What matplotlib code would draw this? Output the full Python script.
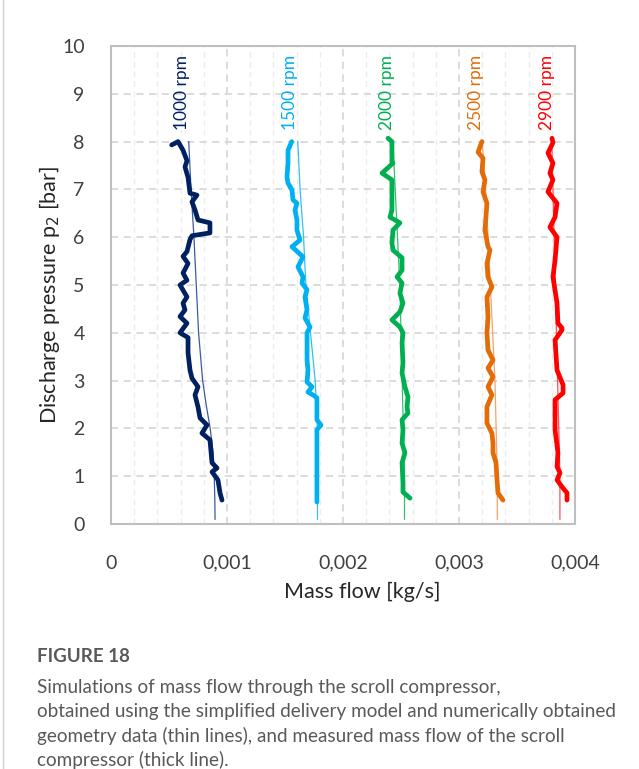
import matplotlib
matplotlib.use("Agg")
import matplotlib.pyplot as plt
from matplotlib.ticker import MultipleLocator
from matplotlib.lines import Line2D

plt.rcParams['font.family'] = ['Lato', 'DejaVu Sans']

# ---------------- data ----------------
speeds = ["1000 rpm", "1500 rpm", "2000 rpm", "2500 rpm", "2900 rpm"]
colors = ["#002060", "#00B0F0", "#00B050", "#E36C09", "#FF0000"]
thin_colors = ["#3A5BA0", "#33C0F2", "#33C070", "#F5A36A", "#FF5050"]
label_x = [0.000612, 0.00154, 0.00238, 0.00315, 0.00376]

# measured (thick lines): pressure [bar], mass flow [kg/s]
p_1000 = [7.93, 8.0, 7.82, 7.6, 7.47, 7.25, 6.92, 6.88, 6.74, 6.57, 6.36, 6.3, 6.09, 6.03, 5.95,
          5.7, 5.6, 5.45, 5.25, 5.1, 5.0, 4.75, 4.62, 4.48, 4.34, 4.2, 4.0, 3.9, 3.58, 3.22,
          3.05, 2.87, 2.7, 2.45, 2.22, 2.07, 1.9, 1.76, 1.28, 1.17, 1.09, 0.92, 0.65, 0.5]
m_1000 = [0.000523, 0.000578, 0.000621, 0.000655, 0.000638, 0.000664, 0.000681, 0.000741, 0.000698,
          0.000724, 0.000750, 0.000853, 0.000853, 0.000698, 0.000681, 0.000655, 0.000621, 0.000664,
          0.000621, 0.000655, 0.000595, 0.000655, 0.000621, 0.000638, 0.000595, 0.000655, 0.000595,
          0.000664, 0.000664, 0.000681, 0.000698, 0.000750, 0.000724, 0.000750, 0.000767, 0.000828,
          0.000784, 0.000853, 0.000871, 0.000914, 0.000871, 0.000922, 0.000940, 0.000957]

p_1500 = [8.0, 7.82, 7.55, 7.26, 7.13, 6.99, 6.78, 6.71, 6.57, 6.36, 6.15, 5.94, 5.8, 5.59, 5.38,
          5.17, 5.04, 4.9, 4.75, 4.48, 4.31, 4.12, 4.0, 3.43, 3.22, 2.97, 2.87, 2.76, 2.7, 2.64,
          2.18, 2.07, 1.97, 0.46]
m_1500 = [0.001558, 0.001526, 0.001526, 0.001517, 0.001526, 0.001560, 0.001569, 0.001603, 0.001586,
          0.001603, 0.001603, 0.001629, 0.001560, 0.001655, 0.001612, 0.001655, 0.001647, 0.001690,
          0.001672, 0.001690, 0.001672, 0.001716, 0.001690, 0.001690, 0.001698, 0.001690, 0.001733,
          0.001698, 0.001741, 0.001775, 0.001775, 0.001810, 0.001775, 0.001775]

p_2000 = [8.07, 8.0, 7.58, 7.55, 7.34, 7.2, 6.57, 6.42, 6.3, 6.15, 5.88, 5.73, 5.57, 5.31, 5.17,
          5.04, 4.83, 4.62, 4.44, 4.27, 4.12, 4.0, 3.79, 3.37, 3.16, 2.87, 2.66, 2.45, 2.32, 2.18,
          1.97, 1.69, 1.49, 1.28, 0.86, 0.67, 0.54]
m_2000 = [0.002388, 0.002422, 0.002422, 0.002431, 0.002336, 0.002422, 0.002422, 0.002405, 0.002491,
          0.002431, 0.002422, 0.002431, 0.002509, 0.002509, 0.002466, 0.002509, 0.002491, 0.002517,
          0.002491, 0.002422, 0.002491, 0.002517, 0.002509, 0.002517, 0.002509, 0.002534, 0.002560,
          0.002552, 0.002560, 0.002509, 0.002517, 0.002509, 0.002534, 0.002509, 0.002517, 0.002517,
          0.002578]

p_2500 = [8.0, 7.78, 7.65, 7.37, 7.2, 6.95, 6.71, 6.15, 5.8, 5.73, 5.45, 5.17, 4.96, 4.75, 4.33,
          4.0, 3.64, 3.43, 3.26, 3.08, 2.87, 2.7, 2.45, 2.11, 1.9, 1.69, 1.49, 1.28, 0.92, 0.65, 0.5]
m_2500 = [0.003198, 0.003164, 0.003207, 0.003198, 0.003224, 0.003207, 0.003241, 0.003224, 0.003250,
          0.003267, 0.003241, 0.003250, 0.003284, 0.003241, 0.003250, 0.003241, 0.003250, 0.003293,
          0.003250, 0.003293, 0.003250, 0.003284, 0.003241, 0.003241, 0.003284, 0.003293, 0.003293,
          0.003319, 0.003328, 0.003336, 0.003379]

p_2900 = [8.07, 7.98, 7.76, 7.55, 7.34, 7.2, 6.95, 6.71, 6.42, 6.21, 6.0, 5.52, 5.17, 4.62, 4.2,
          4.1, 4.06, 3.85, 3.22, 2.91, 2.74, 2.6, 1.97, 1.49, 1.2, 1.07, 0.92, 0.75, 0.65, 0.5]
m_2900 = [0.003802, 0.003810, 0.003767, 0.003810, 0.003784, 0.003810, 0.003767, 0.003845, 0.003828,
          0.003784, 0.003845, 0.003828, 0.003810, 0.003845, 0.003853, 0.003888, 0.003888, 0.003828,
          0.003845, 0.003897, 0.003897, 0.003828, 0.003828, 0.003853, 0.003845, 0.003871, 0.003845,
          0.003897, 0.003931, 0.003931]

# simulated (thin lines)
p_sim_1000 = [0.1, 0.5, 1.0, 1.5, 2.0, 2.5, 3.0, 4.0, 5.0, 6.0, 7.0, 8.0]
m_sim_1000 = [0.000897, 0.000895, 0.00089, 0.00088, 0.000855, 0.00082, 0.00079, 0.000755,
              0.000735, 0.000715, 0.00069, 0.00067]
p_sim = [0.1, 1.0, 2.0, 3.0, 4.0, 5.0, 6.0, 7.0, 8.0]
m_sim_1500 = [0.00178, 0.00178, 0.00178, 0.00176, 0.00172, 0.00168, 0.00166, 0.00163, 0.00161]
m_sim_2000 = [0.00253, 0.00253, 0.00252, 0.00251, 0.00250, 0.00249, 0.00247, 0.00245, 0.00243]
m_sim_2500 = [0.00333, 0.00333, 0.00332, 0.00331, 0.00329, 0.00327, 0.00325, 0.00323, 0.00320]
m_sim_2900 = [0.00387, 0.00387, 0.00386, 0.00385, 0.00384, 0.00383, 0.00382, 0.00381, 0.00380]

xticks = [0, 0.001, 0.002, 0.003, 0.004]
xtick_labels = ["0", "0,001", "0,002", "0,003", "0,004"]

measured = [(m_1000, p_1000), (m_1500, p_1500), (m_2000, p_2000), (m_2500, p_2500), (m_2900, p_2900)]
simulated = [(m_sim_1000, p_sim_1000), (m_sim_1500, p_sim), (m_sim_2000, p_sim),
             (m_sim_2500, p_sim), (m_sim_2900, p_sim)]

# ---------------- figure ----------------
fig = plt.figure(figsize=(6.39, 7.69), dpi=100)
ax = fig.add_axes([111/639, 1 - 524/769, (575-111)/639, (524-46)/769])

ax.set_xlim(0, 0.004)
ax.set_ylim(0, 10)
ax.xaxis.set_major_locator(MultipleLocator(0.001))
ax.xaxis.set_minor_locator(MultipleLocator(0.0002))
ax.yaxis.set_major_locator(MultipleLocator(1))

ax.grid(which='major', color='#D9D9D9', linestyle=(0, (4, 3)), linewidth=1.3)
ax.grid(which='minor', axis='x', color='#EDEDED', linestyle=(0, (4, 3)), linewidth=1.0)
ax.set_axisbelow(True)

for sp in ax.spines.values():
    sp.set_color('#BFBFBF')
    sp.set_linewidth(1.5)

ax.tick_params(which='both', length=0)
ax.tick_params(axis='y', pad=19, labelsize=14, labelcolor='#404040')
ax.tick_params(axis='x', pad=22, labelsize=14, labelcolor='#404040')
ax.set_xticks(xticks)
ax.set_xticklabels(xtick_labels)

for (m, p), c in zip(simulated, thin_colors):
    ax.plot(m, p, color=c, linewidth=0.9, zorder=3)
for (m, p), c in zip(measured, colors):
    ax.plot(m, p, color=c, linewidth=3.4, solid_joinstyle='round', solid_capstyle='round', zorder=4)

for name, x, c in zip(speeds, label_x, colors):
    ax.text(x, 8.25, name, rotation=90, ha='center', va='bottom', color=c, fontsize=12.5)

fig.text(362/639, 1 - 592/769, "Mass flow [kg/s]", ha='center', va='center',
         fontsize=15.5, color='#262626')
fig.text(50/639, 1 - 295/769, "Discharge pressure p$_2$ [bar]", ha='center', va='center',
         rotation=90, fontsize=15.5, color='#262626')

# caption
fig.text(37/639, 1 - 657/769, "FIGURE 18", ha='left', va='center', fontsize=13.5,
         fontweight='bold', color='#595959', family=['Lato', 'DejaVu Sans'])
caption = ["Simulations of mass flow through the scroll compressor,",
           "obtained using the simplified delivery model and numerically obtained",
           "geometry data (thin lines), and measured mass flow of the scroll",
           "compressor (thick line)."]
for i, line in enumerate(caption):
    fig.text(37/639, 1 - (688 + 24*i)/769, line, ha='left', va='center', fontsize=13.6,
             color='#595959', family=['Lato', 'DejaVu Sans'])

fig.add_artist(Line2D([3/639, 3/639], [0, 1], color='#D0D0D0', linewidth=1.0))

fig.savefig("out.png", dpi=100)
